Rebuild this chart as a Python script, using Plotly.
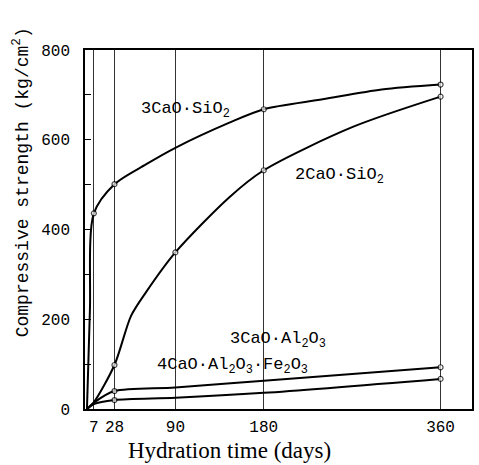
import plotly.graph_objects as go

# Data
days_c3s = [0, 3, 7, 28, 60, 90, 145, 180, 240, 300, 360]
c3s = [0, 220, 436, 501, 545, 582, 638, 668, 690, 712, 723]
c3s_mark = [False, False, True, True, False, False, False, True, False, False, True]

days_c2s = [0, 7, 28, 45, 60, 90, 145, 180, 270, 360]
c2s = [0, 15, 98, 208, 260, 349, 472, 532, 628, 696]
c2s_mark = [False, False, True, False, False, True, False, True, False, True]

days_low = [0, 7, 28, 90, 180, 360]
c3a = [0, 14, 40, 48, 63, 93]
c4af = [0, 11, 20, 25, 36, 67]
low_mark = [False, False, True, False, False, True]

x_ticks = [7, 28, 90, 180, 360]
x_ticktext = ["7", "28", "90", "180", "360"]

fig = go.Figure()

def add(xs, ys, marks):
    fig.add_trace(go.Scatter(
        x=xs, y=ys, mode="lines+markers",
        line=dict(color="black", width=2, shape="spline", smoothing=0.8),
        marker=dict(size=[5 if m else 0 for m in marks], color="white",
                    line=dict(color="black", width=1.2)),
        showlegend=False, hoverinfo="skip"))

add(days_c3s, c3s, c3s_mark)
add(days_c2s, c2s, c2s_mark)
add(days_low, c3a, low_mark)
add(days_low, c4af, low_mark)

mono = "Liberation Mono, DejaVu Sans Mono, monospace"

labels = [
    (100, 666, "3CaO·SiO<sub>2</sub>"),
    (257, 519, "2CaO·SiO<sub>2</sub>"),
    (194, 154, "3CaO·Al<sub>2</sub>O<sub>3</sub>"),
    (148, 96, "4CaO·Al<sub>2</sub>O<sub>3</sub>·Fe<sub>2</sub>O<sub>3</sub>"),
]
for lx, ly, t in labels:
    fig.add_annotation(x=lx, y=ly, text=t, showarrow=False,
                       font=dict(family=mono, size=17, color="black"))

# axis titles placed as annotations (offset like the reference)
fig.add_annotation(xref="paper", yref="paper", x=(230 - 85) / 389, y=-(450 - 409) / 359,
                   xanchor="center", yanchor="middle",
                   text="Hydration time (days)", showarrow=False,
                   font=dict(family="Liberation Serif, serif", size=23, color="black"))
fig.add_annotation(xref="paper", yref="paper", x=-(85 - 21) / 389, y=(409 - 182) / 359,
                   xanchor="center", yanchor="middle",
                   text="Compressive strength (kg/cm<sup>2</sup>)", showarrow=False,
                   textangle=-90,
                   font=dict(family=mono, size=18, color="black"))

fig.update_layout(
    width=479, height=465,
    margin=dict(l=85, r=5, t=50, b=56),
    paper_bgcolor="white", plot_bgcolor="white",
    xaxis=dict(range=[-2, 392], tickvals=x_ticks, ticktext=x_ticktext,
               showgrid=True, gridcolor="#333", gridwidth=1,
               showline=True, linecolor="black", linewidth=1.5, mirror=True,
               ticks="", zeroline=False, ticklabelstandoff=2,
               tickfont=dict(family=mono, size=16, color="black")),
    yaxis=dict(range=[0, 800], tickvals=[0, 200, 400, 600, 800],
               showgrid=False, showline=True, linecolor="black", linewidth=1.5,
               mirror=True, zeroline=False,
               ticks="inside", ticklen=6, tickcolor="black",
               minor=dict(tickvals=[100, 300, 500, 700], ticks="inside", ticklen=6, tickcolor="black"),
               ticklabelstandoff=10,
               tickfont=dict(family=mono, size=16, color="black")),
)

fig.write_html("out.html")
